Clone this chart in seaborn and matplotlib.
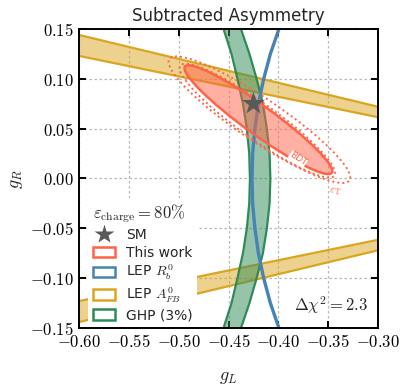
import matplotlib
matplotlib.use("Agg")
import matplotlib.pyplot as plt
from matplotlib.patches import Ellipse, Patch
from matplotlib.lines import Line2D
from matplotlib.ticker import FuncFormatter, MultipleLocator
import numpy as np
import pandas as pd
import seaborn as sns

sns.set_theme(style="ticks")
plt.rcParams['font.family'] = ['DejaVu Sans']
plt.rcParams['mathtext.fontset'] = 'cm'

# --- values ---
# SM point
sm_gL, sm_gR = -0.425, 0.075

# LEP A_FB band: straight edges, given by their end points at gL=-0.60 and gL=-0.30
afb_gL = [-0.60, -0.30]
afb_up_top = [0.144, 0.072]
afb_up_bot = [0.123, 0.0615]
afb_lo_top = [-0.123, -0.0615]
afb_lo_bot = [-0.144, -0.072]

# LEP R_b line (gL read at each gR)
rb_gR = [-0.15, -0.125, -0.10, -0.075, -0.05, -0.025, 0.0, 0.025, 0.05, 0.075, 0.10, 0.125, 0.15]
rb_gL = [-0.3994, -0.4080, -0.4147, -0.4200, -0.4235, -0.4258, -0.4264, -0.4258, -0.4235, -0.4200, -0.4147, -0.4080, -0.3994]

# GHP (3%) band edges
ghp_gR = [-0.15, -0.125, -0.10, -0.075, -0.05, -0.025, 0.0, 0.025, 0.05, 0.075, 0.10, 0.125, 0.15]
ghp_left = [-0.4550, -0.4470, -0.4410, -0.4355, -0.4316, -0.4292, -0.4285, -0.4292, -0.4316, -0.4355, -0.4410, -0.4470, -0.4550]
ghp_right = [-0.4375, -0.4290, -0.4218, -0.4155, -0.4115, -0.4088, -0.4080, -0.4088, -0.4115, -0.4155, -0.4218, -0.4290, -0.4375]

# contours of "This work": center gL, center gR, semi-major, semi-minor, angle (deg)
fill_ell = (-0.420, 0.059, 0.0909, 0.0145, -35.9)
bdt_ell = (-0.421, 0.058, 0.0950, 0.0180, -35.5)
et_ell = (-0.419, 0.059, 0.1090, 0.0215, -34.0)

c_red = '#ff6347'
c_blue = '#4682b4'
c_gold = '#daa520'
c_green = '#2e8b57'

fig = plt.figure(figsize=(4.08, 3.88), dpi=100)
ax = fig.add_axes([0.1936, 0.1546, 0.7329, 0.7707])

# A_FB bands
afb = pd.DataFrame({'gL': afb_gL, 'ut': afb_up_top, 'ub': afb_up_bot,
                    'lt': afb_lo_top, 'lb': afb_lo_bot})
for top, bot in [('ut', 'ub'), ('lt', 'lb')]:
    ax.fill_between(afb['gL'], afb[bot], afb[top], color=c_gold, alpha=0.5, lw=0, zorder=2)
    sns.lineplot(x=afb['gL'], y=afb[top], color=c_gold, lw=1.6, ax=ax, zorder=2)
    sns.lineplot(x=afb['gL'], y=afb[bot], color=c_gold, lw=1.6, ax=ax, zorder=2)

# GHP band
ghp = pd.DataFrame({'gR': ghp_gR, 'left': ghp_left, 'right': ghp_right})
ax.fill_betweenx(ghp['gR'], ghp['left'], ghp['right'], color=c_green, alpha=0.5, lw=0, zorder=2)
ax.plot(ghp['left'], ghp['gR'], color=c_green, lw=1.6, zorder=2)
ax.plot(ghp['right'], ghp['gR'], color=c_green, lw=1.6, zorder=2)

# R_b
ax.plot(rb_gL, rb_gR, color=c_blue, lw=2.4, zorder=2.1)

# This work
cx, cy, a, b, ang = fill_ell
ax.add_patch(Ellipse((cx, cy), 2 * a, 2 * b, angle=ang, facecolor=c_red, alpha=0.5,
                     edgecolor='none', zorder=2.2))
ax.add_patch(Ellipse((cx, cy), 2 * a, 2 * b, angle=ang, facecolor='none',
                     edgecolor=c_red, lw=1.8, zorder=2.3))
for cx, cy, a, b, ang in [bdt_ell, et_ell]:
    ax.add_patch(Ellipse((cx, cy), 2 * a, 2 * b, angle=ang, facecolor='none',
                         edgecolor=c_red, lw=1.4, ls=(0, (1, 1.6)), zorder=2.3))
ax.text(-0.3805, 0.0195, 'BDT', color=c_red, fontsize=6.5, rotation=-33,
        ha='center', va='center', zorder=2.4,
        bbox=dict(facecolor='white', edgecolor='none', pad=0.1))
ax.text(-0.343, -0.0135, r'$\varepsilon_{\rm T}$', color=c_red, fontsize=8, rotation=-8,
        ha='center', va='center', zorder=2.4)

# SM
sns.scatterplot(x=[sm_gL], y=[sm_gR], marker='*', s=300, color='0.35', edgecolor='none',
                ax=ax, zorder=3, legend=False)

ax.set_xlim(-0.6, -0.3)
ax.set_ylim(-0.15, 0.15)
ax.xaxis.set_major_locator(MultipleLocator(0.05))
ax.yaxis.set_major_locator(MultipleLocator(0.05))
fmt = FuncFormatter(lambda v, p: f'${v:.2f}$')
ax.xaxis.set_major_formatter(fmt)
ax.yaxis.set_major_formatter(fmt)
ax.tick_params(direction='in', top=True, right=True, length=5, width=1.4, labelsize=12,
               color='black', labelcolor='black')
for s in ax.spines.values():
    s.set_linewidth(1.4)
    s.set_color('black')
ax.grid(True, ls=(0, (2, 2)), color='0.72', lw=0.9)
ax.set_axisbelow(True)

ax.set_title('Subtracted Asymmetry', fontsize=12, pad=6)
ax.set_xlabel('$g_L$', fontsize=13, labelpad=12)
ax.set_ylabel('$g_R$', fontsize=13, labelpad=4)

ax.text(0.965, 0.04, r'$\Delta\chi^2 = 2.3$', transform=ax.transAxes, ha='right', va='bottom',
        fontsize=12)

handles = [
    Line2D([], [], marker='*', ls='none', color='0.35', markersize=15, markeredgecolor='none'),
    Patch(facecolor='none', edgecolor=c_red, lw=1.8),
    Patch(facecolor='none', edgecolor=c_blue, lw=1.8),
    Patch(facecolor='none', edgecolor=c_gold, lw=1.8),
    Patch(facecolor='none', edgecolor=c_green, lw=1.8),
]
labels = ['SM', 'This work', r'LEP $R_b^0$', r'LEP $A_{FB}^0$', 'GHP (3%)']
leg = ax.legend(handles, labels, loc='lower left', bbox_to_anchor=(0.027, 0.0),
                title=r'$\varepsilon_{\rm charge} = 80\%$', title_fontsize=12, fontsize=10,
                frameon=True, facecolor='white', edgecolor='none', framealpha=1,
                handlelength=1.6, handleheight=0.8, labelspacing=0.25, borderpad=0.3,
                borderaxespad=0.1, handletextpad=0.8)
leg.set_zorder(5)
leg._legend_box.align = 'left'

fig.savefig('out.png', dpi=100)
